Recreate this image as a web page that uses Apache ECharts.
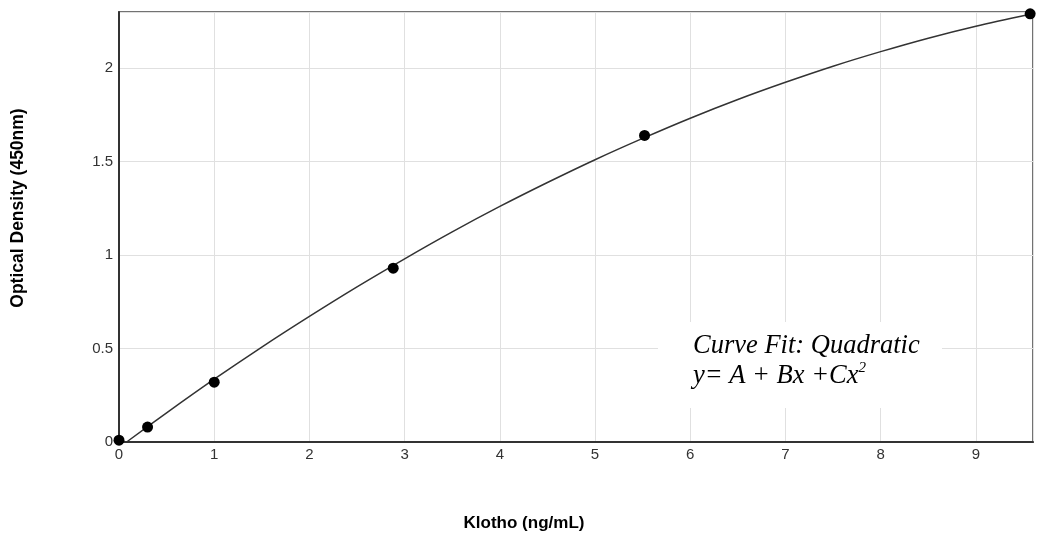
<!DOCTYPE html>
<html>
<head>
<meta charset="utf-8">
<script src="https://cdn.jsdelivr.net/npm/echarts@6/dist/echarts.min.js"></script>
<style>html,body{margin:0;padding:0;background:#fff}#c{width:1042px;height:533px}</style>
</head>
<body>
<div id="c"></div>
<script>
// Standards (concentration ng/mL, OD 450nm)
var pointX = [0, 0.3, 1, 2.88, 5.52, 9.57];
var pointY = [0.01, 0.08, 0.32, 0.93, 1.64, 2.29];
// Fitted curve
var curveX = [0.08, 0.5, 1, 1.5, 2, 2.5, 3, 3.5, 4, 4.5, 5, 5.5, 6, 6.5, 7, 7.5, 8, 8.5, 9, 9.57];
var curveY = [0, 0.156, 0.336, 0.508, 0.672, 0.83, 0.98, 1.124, 1.26, 1.388, 1.51, 1.624, 1.732, 1.832, 1.924, 2.01, 2.088, 2.16, 2.224, 2.288];
var xTitle = 'Klotho (ng/mL)';
var yTitle = 'Optical Density (450nm)';
var noteLine1 = 'Curve Fit: Quadratic';
var noteLine2 = 'y= A + Bx +Cx';

var chart = echarts.init(document.getElementById('c'));
var lbl = {color: '#333', fontFamily: 'Arial, Liberation Sans', fontSize: 15};
var serif = '"Liberation Serif", "Times New Roman", serif';
chart.setOption({
  animation: false,
  grid: {left: 119, right: 9, top: 12, bottom: 91, show: true, borderColor: '#444', borderWidth: 1.5, backgroundColor: 'transparent'},
  xAxis: {
    type: 'value', min: 0, max: 9.6, interval: 1,
    axisLine: {show: true, onZero: false, lineStyle: {color: '#333', width: 2}},
    axisTick: {show: false},
    splitLine: {show: true, lineStyle: {color: '#e0e0e0', width: 1}},
    axisLabel: Object.assign({margin: 5, showMaxLabel: false}, lbl)
  },
  yAxis: {
    type: 'value', min: 0, max: 2.3, interval: 0.5,
    axisLine: {show: true, onZero: false, lineStyle: {color: '#333', width: 2}},
    axisTick: {show: false},
    splitLine: {show: true, lineStyle: {color: '#e0e0e0', width: 1}},
    axisLabel: Object.assign({margin: 6, showMaxLabel: false}, lbl)
  },
  series: [
    {
      type: 'line', data: curveX.map(function (x, i) { return [x, curveY[i]]; }),
      showSymbol: false, smooth: 0.3, lineStyle: {color: '#333', width: 1.5}, z: 3
    },
    {
      type: 'scatter', data: pointX.map(function (x, i) { return [x, pointY[i]]; }),
      symbolSize: 11, itemStyle: {color: '#000', opacity: 1}, z: 4
    }
  ],
  graphic: [
    {type: 'text', x: 524, y: 523, z: 11, style: {
      text: xTitle, font: 'bold 17px Arial, "Liberation Sans", sans-serif', fill: '#000',
      align: 'center', verticalAlign: 'middle'}},
    {type: 'text', x: 18, y: 208, rotation: Math.PI / 2, z: 11, style: {
      text: yTitle, font: 'bold 17.5px Arial, "Liberation Sans", sans-serif', fill: '#000',
      align: 'center', verticalAlign: 'middle'}},
    {type: 'rect', shape: {x: 658, y: 322, width: 284, height: 86}, style: {fill: '#fff'}, z: 10},
    {type: 'text', left: 693, top: 331, z: 11, style: {
      text: noteLine1 + '\n{m|' + noteLine2 + '}{s|2}',
      font: 'italic 26.5px ' + serif,
      fill: '#000', lineHeight: 30,
      rich: {
        m: {font: 'italic 26.5px ' + serif, fill: '#000', lineHeight: 30},
        s: {font: 'italic 15px ' + serif, fill: '#000', verticalAlign: 'top', lineHeight: 30, padding: [0, 0, 10, 0]}
      }
    }}
  ]
});
</script>
</body>
</html>
